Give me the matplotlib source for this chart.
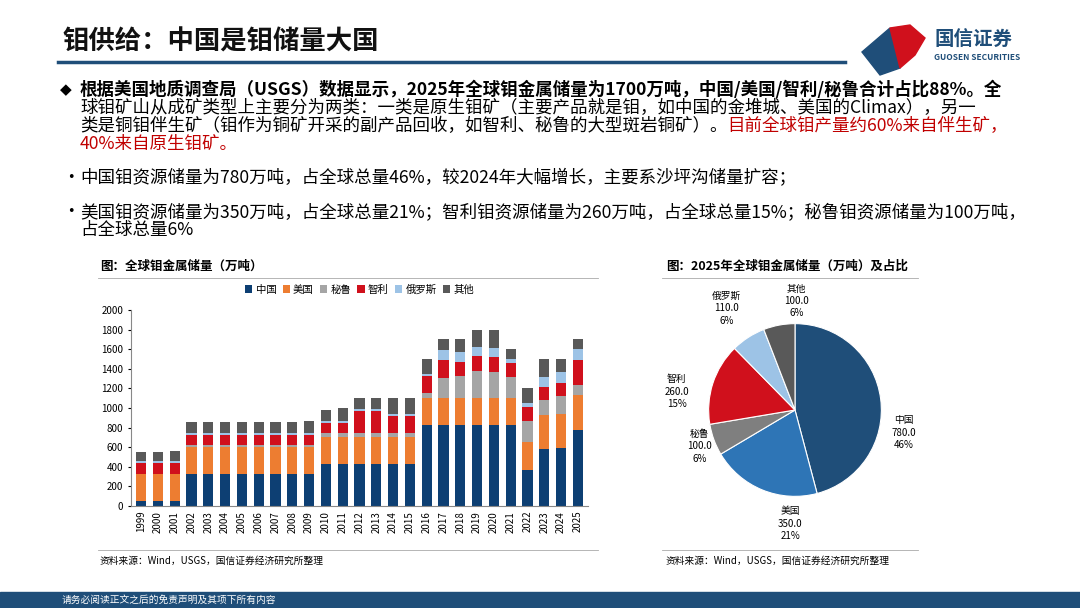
import matplotlib
matplotlib.use("Agg")
import matplotlib.pyplot as plt
from matplotlib.patches import Rectangle, Polygon
import numpy as np

plt.rcParams['font.family'] = ['Noto Sans CJK SC', 'DejaVu Sans']

years = [str(y) for y in range(1999, 2026)]
china  = [50,50,50,330,330,330,330,330,330,330,330,430,430,430,430,430,430,830,830,830,830,830,830,370,580,590,780]
usa    = [280,280,280,270,270,270,270,270,270,270,270,270,270,270,270,270,270,270,270,270,270,270,270,280,350,350,350]
peru   = [0,0,0,20,20,20,20,20,20,20,20,40,40,40,40,40,40,50,210,230,280,270,220,220,150,180,100]
chile  = [110,110,110,100,100,100,100,100,100,100,100,110,110,230,230,180,180,180,180,140,150,150,140,140,130,140,260]
russia = [20,20,20,20,20,20,20,20,20,20,20,20,20,20,20,20,20,20,100,100,90,90,40,40,110,110,110]
other  = [90,90,100,120,120,120,120,120,120,120,130,110,130,110,110,160,160,150,110,130,180,190,100,150,180,130,100]
series_names = ['中国','美国','秘鲁','智利','俄罗斯','其他']
bar_colors = ['#0D3F73','#ED7D31','#A5A5A5','#D0101C','#9DC3E6','#595959']

pie_labels = ['中国','美国','秘鲁','智利','俄罗斯','其他']
pie_values = [780.0,350.0,100.0,260.0,110.0,100.0]
pie_pcts = ['46%','21%','6%','15%','6%','6%']
pie_colors = ['#1F4E79','#2E75B6','#7F7F7F','#D0101C','#9DC3E6','#595959']

fig = plt.figure(figsize=(10.8,6.08), dpi=100)
W, H = 1080, 608
def fx(x): return x/W
def fy(y): return 1-y/H

fig.text(fx(62), fy(42), '钼供给：中国是钼储量大国', fontsize=19, fontweight='bold', va='center', color='#111111')
fig.add_artist(plt.Line2D([fx(58), fx(845)], [fy(62), fy(62)], color='#1F4E79', lw=2.5))
fig.add_artist(Polygon([[fx(862),fy(52)],[fx(890),fy(28)],[fx(900),fy(68)],[fx(880),fy(75)]], closed=True, color='#1F4E79'))
fig.add_artist(Polygon([[fx(890),fy(28)],[fx(910),fy(25)],[fx(925),fy(38)],[fx(915),fy(55)],[fx(900),fy(68)]], closed=True, color='#D0101C'))
fig.text(fx(934), fy(40), '国信证券', fontsize=14, va='center', color='#1F4E79', fontweight='bold')
fig.text(fx(934), fy(58), 'GUOSEN SECURITIES', fontsize=6, va='center', color='#1F4E79', fontweight='bold')

fs = 12.6
fig.text(fx(60), fy(90), '◆', fontsize=11, va='center', family=['DejaVu Sans'])
fig.text(fx(80), fy(90), '根据美国地质调查局（USGS）数据显示，2025年全球钼金属储量为1700万吨，中国/美国/智利/秘鲁合计占比88%。全',
         fontsize=fs, va='center', fontweight='bold')
fig.text(fx(80), fy(108), '球钼矿山从成矿类型上主要分为两类：一类是原生钼矿（主要产品就是钼，如中国的金堆城、美国的Climax），另一', fontsize=fs, va='center')
t3 = fig.text(fx(80), fy(126), '类是铜钼伴生矿（钼作为铜矿开采的副产品回收，如智利、秘鲁的大型斑岩铜矿）。', fontsize=fs, va='center')
fig.canvas.draw()
bb = t3.get_window_extent()
fig.text(bb.x1/W, fy(126), '目前全球钼产量约60%来自伴生矿，', fontsize=fs, va='center', color='#C00000', ha='left')
fig.text(fx(80), fy(144), '40%来自原生钼矿。', fontsize=fs, va='center', color='#C00000')
fig.text(fx(62), fy(178), '•', fontsize=fs, va='center')
fig.text(fx(80), fy(178), '中国钼资源储量为780万吨，占全球总量46%，较2024年大幅增长，主要系沙坪沟储量扩容；', fontsize=fs, va='center')
fig.text(fx(62), fy(212), '•', fontsize=fs, va='center')
fig.text(fx(80), fy(212), '美国钼资源储量为350万吨，占全球总量21%；智利钼资源储量为260万吨，占全球总量15%；秘鲁钼资源储量为100万吨，', fontsize=fs, va='center')
fig.text(fx(80), fy(230), '占全球总量6%', fontsize=fs, va='center')

fig.text(fx(100), fy(266), '图：全球钼金属储量（万吨）', fontsize=9, fontweight='bold', va='center')
fig.add_artist(plt.Line2D([fx(98), fx(598)], [fy(278), fy(278)], color='#AAAAAA', lw=0.6))
fig.add_artist(plt.Line2D([fx(98), fx(598)], [fy(550), fy(550)], color='#AAAAAA', lw=0.6))
fig.text(fx(100), fy(561), '资料来源：Wind，USGS，国信证券经济研究所整理', fontsize=7, va='center')
fig.text(fx(666), fy(266), '图：2025年全球钼金属储量（万吨）及占比', fontsize=9, fontweight='bold', va='center')
fig.add_artist(plt.Line2D([fx(662), fx(918)], [fy(278), fy(278)], color='#AAAAAA', lw=0.6))
fig.add_artist(plt.Line2D([fx(662), fx(918)], [fy(550), fy(550)], color='#AAAAAA', lw=0.6))
fig.text(fx(666), fy(561), '资料来源：Wind，USGS，国信证券经济研究所整理', fontsize=7, va='center')

ax = fig.add_axes([fx(131), fy(506), fx(588)-fx(131), fy(310)-fy(506)])
x = np.arange(len(years))
bottom = np.zeros(len(years))
for name, vals, c in zip(series_names, [china,usa,peru,chile,russia,other], bar_colors):
    ax.bar(x, vals, 0.6, bottom=bottom, color=c, label=name)
    bottom += np.array(vals)
ax.set_ylim(0, 2000)
ax.set_yticks(range(0, 2001, 200))
ax.set_xlim(-0.6, len(years)-0.4)
ax.set_xticks(x)
ax.set_xticklabels(years, rotation=90, fontsize=7)
ax.tick_params(axis='y', labelsize=7, length=2)
ax.tick_params(axis='x', length=0)
for s in ['top','right']:
    ax.spines[s].set_visible(False)
ax.spines['left'].set_color('#888888'); ax.spines['bottom'].set_color('#888888')
ax.legend(loc='lower center', bbox_to_anchor=(0.5, 1.03), ncol=6, fontsize=7.5, frameon=False,
          handlelength=0.7, handleheight=0.7, columnspacing=0.6, handletextpad=0.3)

axp = fig.add_axes([fx(695), fy(510), fx(895)-fx(695), fy(310)-fy(510)])
wedges, _ = axp.pie(pie_values, colors=pie_colors, startangle=90, counterclock=False, radius=0.95,
                    wedgeprops=dict(edgecolor='white', linewidth=0.8))
axp.set_xlim(-1.1, 1.1); axp.set_ylim(-1.1, 1.1)
axp.set_aspect('equal')
label_pos = [(1.2, -0.25), (-0.05, -1.25), (-1.05, -0.4), (-1.3, 0.2), (-0.75, 1.12), (0.02, 1.2)]
for lab, v, p, (lx, ly) in zip(pie_labels, pie_values, pie_pcts, label_pos):
    axp.text(lx, ly, f'{lab}\n{v:.1f}\n{p}', ha='center', va='center', fontsize=7, linespacing=1.3)

fig.add_artist(Rectangle((0, 0), 1, 16/H, transform=fig.transFigure, color='#1F4E79'))
fig.text(fx(62), 8/H, '请务必阅读正文之后的免责声明及其项下所有内容', fontsize=7, color='white', va='center')

fig.savefig('out.png', dpi=100)
